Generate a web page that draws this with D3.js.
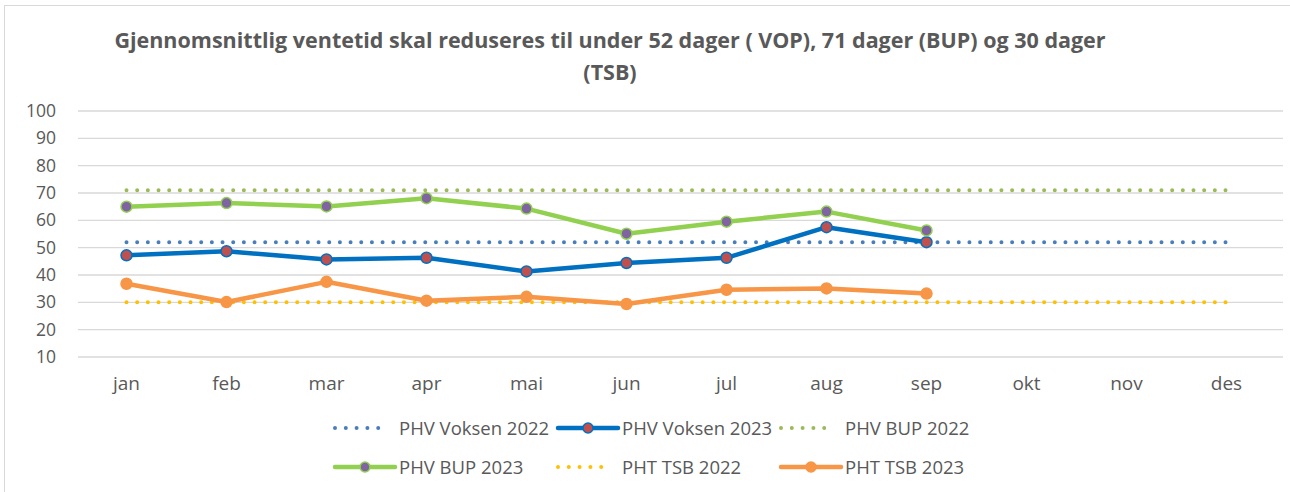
<!DOCTYPE html>
<html>
<head>
<meta charset="utf-8">
<script src="https://cdn.jsdelivr.net/npm/d3@7"></script>
<style>
  body { margin: 0; background: #fff; }
  text { font-family: "Open Sans", sans-serif; fill: #595959; }
</style>
</head>
<body>
<svg width="1290" height="492"></svg>
<script>
var months = ["jan", "feb", "mar", "apr", "mai", "jun", "jul", "aug", "sep", "okt", "nov", "des"];
var yTicks = [10, 20, 30, 40, 50, 60, 70, 80, 90, 100];

// target lines 2022 (flat for the whole year)
var voksen2022 = [52, 52, 52, 52, 52, 52, 52, 52, 52, 52, 52, 52];
var bup2022 = [71, 71, 71, 71, 71, 71, 71, 71, 71, 71, 71, 71];
var tsb2022 = [30, 30, 30, 30, 30, 30, 30, 30, 30, 30, 30, 30];

// 2023 values, jan - sep
var voksen2023 = [47.2, 48.7, 45.7, 46.3, 41.3, 44.4, 46.3, 57.5, 52.0];
var bup2023 = [65.0, 66.3, 65.1, 68.1, 64.3, 55.1, 59.5, 63.2, 56.3];
var tsb2023 = [36.8, 30.1, 37.5, 30.6, 32.0, 29.4, 34.6, 35.1, 33.2];

var series = [
  {name: "PHV Voksen 2022", values: voksen2022, color: "#4a7ebb", dotted: true},
  {name: "PHV Voksen 2023", values: voksen2023, color: "#0070c0", fill: "#c0504d"},
  {name: "PHV BUP 2022", values: bup2022, color: "#9bbb59", dotted: true},
  {name: "PHV BUP 2023", values: bup2023, color: "#92d050", fill: "#8064a2"},
  {name: "PHT TSB 2022", values: tsb2022, color: "#ffc000", dotted: true},
  {name: "PHT TSB 2023", values: tsb2023, color: "#f79646", fill: "#f79646"}
];

var svg = d3.select("svg");

// chart frame
svg.append("rect")
    .attr("x", 4.5).attr("y", 5.5)
    .attr("width", 1300).attr("height", 500)
    .attr("fill", "none").attr("stroke", "#d9d9d9");

// title
var title = svg.append("text")
    .attr("text-anchor", "middle")
    .attr("font-size", 21.5).attr("font-weight", "bold");
title.append("tspan").attr("x", 610).attr("y", 48)
    .text("Gjennomsnittlig ventetid skal reduseres til under 52 dager ( VOP), 71 dager (BUP) og 30 dager");
title.append("tspan").attr("x", 610).attr("y", 80).text("(TSB)");

var x = d3.scaleBand().domain(months).range([76.5, 1276.5]);
var y = d3.scaleLinear().domain([10, 100]).range([357, 111]);

// gridlines
svg.append("g").selectAll("line")
    .data(yTicks)
    .enter().append("line")
      .attr("x1", 78).attr("x2", 1283)
      .attr("y1", function(d) { return y(d); })
      .attr("y2", function(d) { return y(d); })
      .attr("stroke", "#d9d9d9").attr("stroke-width", 1.3);

// y axis labels
var yAxis = svg.append("g")
    .attr("transform", "translate(56,0)")
    .call(d3.axisLeft(y).tickValues(yTicks).tickSize(0).tickPadding(0));
yAxis.select(".domain").remove();
yAxis.selectAll("text")
    .attr("font-size", 17.5).attr("fill", "#595959")
    .style("font-family", "'Open Sans', sans-serif");

// x axis labels
var xAxis = svg.append("g")
    .attr("transform", "translate(0,372)")
    .call(d3.axisBottom(x).tickSize(0).tickPadding(0));
xAxis.select(".domain").remove();
xAxis.selectAll("text")
    .attr("dy", "0")
    .attr("y", 18)
    .attr("font-size", 19).attr("fill", "#595959")
    .style("font-family", "'Open Sans', sans-serif");

var line = d3.line()
    .x(function(d, i) { return x(months[i]) + x.bandwidth() / 2; })
    .y(function(d) { return y(d); });

// dotted target lines first, then 2023 lines on top
var order = [0, 2, 4, 1, 3, 5];
order.forEach(function(k) {
  var s = series[k];
  var path = svg.append("path")
      .datum(s.values)
      .attr("d", line)
      .attr("fill", "none")
      .attr("stroke", s.color);
  if (s.dotted) {
    path.attr("stroke-width", 4)
        .attr("stroke-linecap", "round")
        .attr("stroke-dasharray", "0,10.67");
  } else {
    path.attr("stroke-width", 4.5)
        .attr("stroke-linejoin", "round");
    svg.append("g").selectAll("circle")
        .data(s.values)
        .enter().append("circle")
          .attr("cx", function(d, i) { return x(months[i]) + x.bandwidth() / 2; })
          .attr("cy", function(d) { return y(d); })
          .attr("r", 5.5)
          .attr("fill", s.fill)
          .attr("stroke", s.color)
          .attr("stroke-width", 1.5);
  }
});

// legend: text start x for each column, row y
var legendX = [399, 622, 845];
var legendY = [428, 467];
series.forEach(function(s, k) {
  var tx = legendX[k % 3], ty = legendY[Math.floor(k / 3)];
  var g = svg.append("g").attr("transform", "translate(" + tx + "," + ty + ")");
  if (s.dotted) {
    g.append("line")
        .attr("x1", -64).attr("x2", -10).attr("y1", 0).attr("y2", 0)
        .attr("stroke", s.color).attr("stroke-width", 4)
        .attr("stroke-linecap", "round")
        .attr("stroke-dasharray", "0,10.8");
  } else {
    g.append("line")
        .attr("x1", -64).attr("x2", -4).attr("y1", 0).attr("y2", 0)
        .attr("stroke", s.color).attr("stroke-width", 4.5)
        .attr("stroke-linecap", "round");
    g.append("circle")
        .attr("cx", -34).attr("cy", 0).attr("r", 5)
        .attr("fill", s.fill).attr("stroke", s.color).attr("stroke-width", 1.5);
  }
  g.append("text")
      .attr("x", 0).attr("y", 7)
      .attr("font-size", 18.5)
      .text(s.name);
});
</script>
</body>
</html>
